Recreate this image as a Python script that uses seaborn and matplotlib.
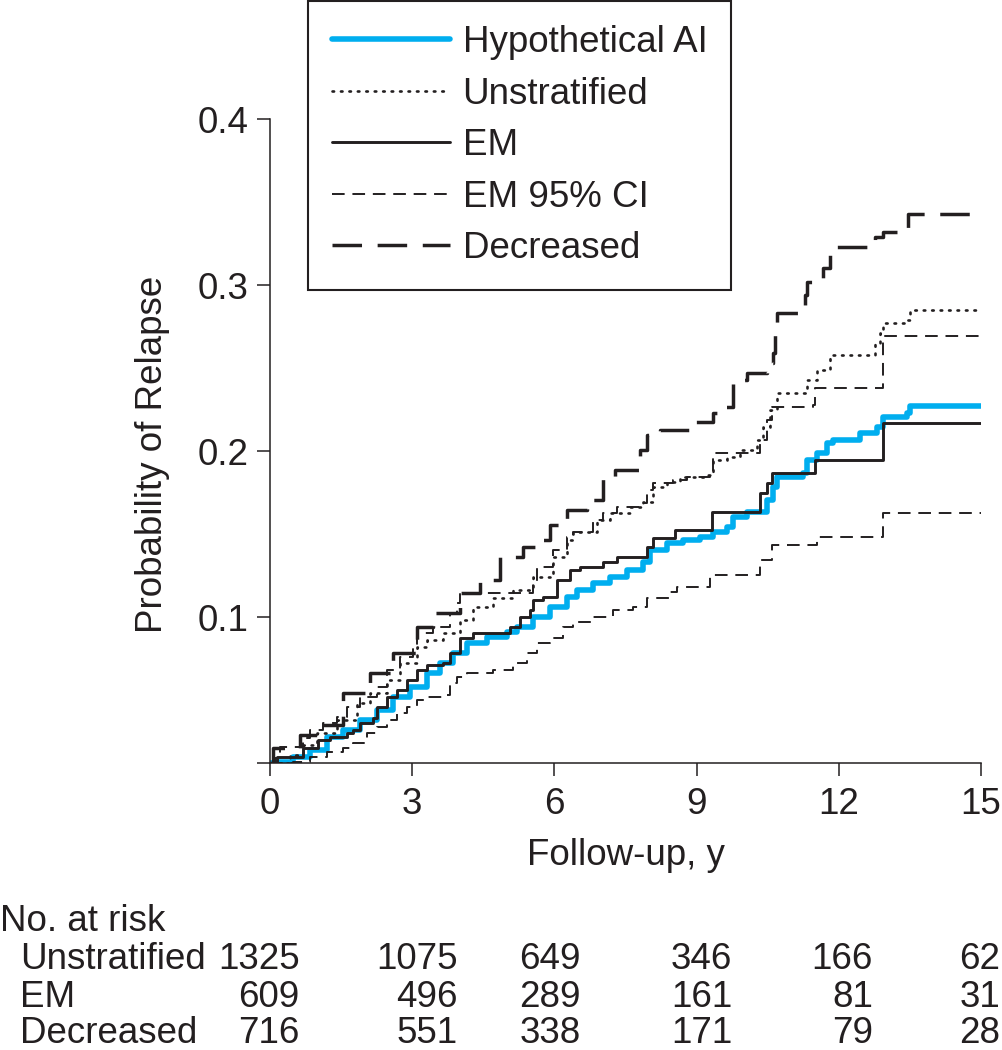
import numpy as np
import pandas as pd
import matplotlib
matplotlib.use("Agg")
import matplotlib.pyplot as plt
import matplotlib.transforms as mtransforms
import seaborn as sns

# ---- curve data (years, probability of relapse) ----
ai_t = [0.0, 0.11, 0.49, 0.84, 1.20, 1.54, 1.90, 2.26, 2.59, 2.95, 3.31, 3.59, 3.86, 4.16, 4.58,
        5.00, 5.21, 5.55, 5.91, 6.27, 6.48, 6.81, 7.17, 7.53, 7.87, 8.02, 8.38, 8.71, 9.07, 9.35,
        9.64, 9.77, 10.06, 10.49, 10.61, 10.70, 11.24, 11.33, 11.54, 11.75, 11.88, 12.45, 12.81,
        12.93, 13.44, 13.50, 15.0]
ai_p = [0.0123, 0.0129, 0.0159, 0.0202, 0.0280, 0.0322, 0.0382, 0.0443, 0.0521, 0.0581, 0.0666,
        0.0726, 0.0786, 0.0846, 0.0883, 0.0913, 0.0943, 0.1003, 0.1063, 0.1124, 0.1166, 0.1208,
        0.1244, 0.1286, 0.1334, 0.1407, 0.1449, 0.1467, 0.1485, 0.1515, 0.1545, 0.1606, 0.1636,
        0.1708, 0.1786, 0.1846, 0.1871, 0.1949, 0.1991, 0.2051, 0.2069, 0.2111, 0.2148, 0.2208,
        0.2232, 0.2274, 0.2274]

unstrat_t = [0.0, 0.42, 0.70, 0.99, 1.41, 1.84, 2.11, 2.47, 2.74, 3.10, 3.31, 3.65, 4.01, 4.28,
             4.70, 5.13, 5.55, 5.97, 6.27, 6.39, 6.90, 7.17, 7.59, 7.87, 8.08, 8.38, 8.65, 9.22,
             9.35, 9.64, 9.92, 10.27, 10.40, 10.55, 10.70, 11.33, 11.54, 11.81, 12.76, 12.87,
             12.93, 13.44, 13.50, 15.0]
unstrat_p = [0.0123, 0.0171, 0.0232, 0.0304, 0.0382, 0.0485, 0.0545, 0.0623, 0.0726, 0.0822,
             0.0864, 0.0907, 0.0985, 0.1063, 0.1118, 0.1166, 0.1244, 0.1364, 0.1467, 0.1515,
             0.1587, 0.1630, 0.1666, 0.1696, 0.1786, 0.1816, 0.1846, 0.1858, 0.1949, 0.1967,
             0.2009, 0.2069, 0.2148, 0.2250, 0.2352, 0.2431, 0.2491, 0.2581, 0.2654, 0.2714,
             0.2774, 0.2792, 0.2852, 0.2852]

em_t = [0.0, 0.15, 0.70, 1.01, 1.27, 1.62, 1.75, 1.90, 2.17, 2.26, 2.47, 2.68, 2.89, 3.10, 3.31,
        3.65, 3.80, 4.01, 4.28, 5.06, 5.27, 5.49, 5.55, 5.76, 6.05, 6.33, 6.54, 7.03, 7.32, 7.95,
        8.08, 8.54, 9.32, 10.34, 10.49, 10.59, 11.50, 12.93, 15.0]
em_p = [0.0123, 0.0159, 0.0214, 0.0262, 0.0280, 0.0304, 0.0322, 0.0364, 0.0394, 0.0461, 0.0521,
        0.0563, 0.0623, 0.0684, 0.0714, 0.0726, 0.0786, 0.0877, 0.0907, 0.0943, 0.1003, 0.1045,
        0.1106, 0.1124, 0.1226, 0.1287, 0.1305, 0.1334, 0.1364, 0.1425, 0.1479, 0.1527, 0.1636,
        0.1750, 0.1810, 0.1871, 0.1949, 0.2172, 0.2172]

ci_hi_t = [0.0, 0.11, 0.21, 0.70, 0.84, 1.12, 1.41, 1.62, 1.90, 2.26, 2.47, 2.74, 3.02, 3.10,
           3.44, 3.80, 3.95, 4.01, 5.55, 5.63, 5.97, 6.27, 6.39, 6.81, 7.03, 7.32, 7.81, 7.95,
           8.08, 8.50, 8.80, 9.28, 9.35, 10.34, 10.49, 10.59, 11.46, 11.50, 12.93, 15.0]
ci_hi_p = [0.0123, 0.0153, 0.0220, 0.0274, 0.0322, 0.0364, 0.0400, 0.0461, 0.0521, 0.0581, 0.0684,
           0.0762, 0.0822, 0.0907, 0.0943, 0.1028, 0.1087, 0.1148, 0.1208, 0.1304, 0.1407,
           0.1485, 0.1515, 0.1587, 0.1630, 0.1666, 0.1690, 0.1768, 0.1810, 0.1828, 0.1846,
           0.1858, 0.1991, 0.2069, 0.2190, 0.2268, 0.2280, 0.2383, 0.2696, 0.2696]

ci_lo_t = [0.0, 0.49, 0.84, 1.20, 1.54, 1.75, 2.05, 2.26, 2.47, 2.68, 2.89, 3.10, 3.31, 3.65, 3.80,
           3.95, 4.16, 4.70, 5.13, 5.42, 5.63, 5.91, 6.18, 6.39, 6.81, 7.24, 7.66, 7.95, 8.44,
           8.59, 9.28, 10.34, 10.59, 11.54, 12.93, 15.0]
ci_lo_p = [0.0123, 0.0129, 0.0159, 0.0190, 0.0214, 0.0244, 0.0304, 0.0340, 0.0382, 0.0425, 0.0461,
           0.0503, 0.0521, 0.0533, 0.0605, 0.0642, 0.0666, 0.0684, 0.0726, 0.0786, 0.0846,
           0.0877, 0.0943, 0.0973, 0.1003, 0.1045, 0.1063, 0.1118, 0.1154, 0.1184, 0.1256,
           0.1346, 0.1437, 0.1485, 0.1630, 0.1630]

decr_t = [0.0, 0.06, 0.63, 1.05, 1.54, 2.11, 2.59, 3.10, 3.44, 4.01, 4.43, 4.85, 5.34, 5.76, 5.91,
          6.27, 6.69, 7.03, 7.28, 7.81, 7.95, 8.23, 8.86, 9.35, 9.49, 9.77, 10.06, 10.49, 10.61,
          10.65, 10.70, 11.29, 11.33, 11.67, 11.81, 12.76, 12.93, 13.46, 15.0]
decr_p = [0.0123, 0.0214, 0.0292, 0.0352, 0.0545, 0.0666, 0.0786, 0.0943, 0.1028, 0.1148, 0.1226,
          0.1364, 0.1425, 0.1467, 0.1557, 0.1648, 0.1708, 0.1846, 0.1886, 0.2009, 0.2099,
          0.2129, 0.2178, 0.2232, 0.2268, 0.2431, 0.2473, 0.2533, 0.2593, 0.2702, 0.2834,
          0.2943, 0.3021, 0.3105, 0.3232, 0.3292, 0.3322, 0.3431, 0.3431]

# ---- number at risk table ----
risk_times = [0, 3, 6, 9, 12, 15]
risk_groups = ["Unstratified", "EM", "Decreased"]
risk_unstrat = [1325, 1075, 649, 346, 166, 62]
risk_em = [609, 496, 289, 161, 81, 31]
risk_decr = [716, 551, 338, 171, 79, 28]

x_ticks = [0, 3, 6, 9, 12, 15]
y_ticks = [0.1, 0.2, 0.3, 0.4]

TXT = "#231f20"
BLUE = "#00aeef"
FS = 26.5

sns.set_style("ticks")
plt.rcParams["font.family"] = ["Liberation Sans", "DejaVu Sans"]
plt.rcParams["text.color"] = TXT
plt.rcParams["axes.labelcolor"] = TXT
plt.rcParams["xtick.color"] = TXT
plt.rcParams["ytick.color"] = TXT

fig = plt.figure(figsize=(10.02, 10.5), dpi=100)
ax = fig.add_axes([0.2695, 0.2733, 0.7096, 0.6129])

def km(t, p, **kw):
    sns.lineplot(x=t, y=p, ax=ax, drawstyle="steps-post", estimator=None, **kw)

km(ai_t, ai_p, color=BLUE, linewidth=4.0, label="Hypothetical AI", zorder=2)
km(unstrat_t, unstrat_p, color=TXT, linewidth=1.9, linestyle=(0, (0.6, 2.6)),
   dash_capstyle="round", label="Unstratified", zorder=3)
km(em_t, em_p, color=TXT, linewidth=2.1, label="EM", zorder=3)
km(ci_hi_t, ci_hi_p, color=TXT, linewidth=1.4, linestyle=(0, (6.5, 4)), label="EM 95% CI", zorder=3)
km(ci_lo_t, ci_lo_p, color=TXT, linewidth=1.4, linestyle=(0, (6.5, 4)), zorder=3)
km(decr_t, decr_p, color=TXT, linewidth=2.5, linestyle=(0, (8.5, 4.5)), label="Decreased", zorder=3)

ybot = 0.0123
ax.set_xlim(0, 15)
ax.set_ylim(ybot, 0.4)
ax.set_xticks(x_ticks)
ax.set_xticklabels([str(v) for v in x_ticks])
ax.set_yticks([ybot] + y_ticks)
ax.set_yticklabels([""] + ["%.1f" % v for v in y_ticks])
ax.tick_params(axis="both", direction="out", length=9.5, width=1.1, labelsize=FS)
ax.tick_params(axis="x", pad=8)
ax.tick_params(axis="y", pad=6)
for s in ["top", "right"]:
    ax.spines[s].set_visible(False)
for s in ["left", "bottom"]:
    ax.spines[s].set_linewidth(1.1)
    ax.spines[s].set_color(TXT)

ax.set_xlabel("Follow-up, y", fontsize=FS)
ax.set_ylabel("Probability of Relapse", fontsize=FS)
ax.xaxis.set_label_coords(0.5, -0.117)
ax.yaxis.set_label_coords(-0.14, 0.48)

leg = ax.legend(loc="upper left", bbox_to_anchor=(308 / 1002, 0.999),
                bbox_transform=fig.transFigure, fontsize=FS, frameon=True,
                fancybox=False, edgecolor=TXT, framealpha=1, handlelength=3.2,
                handletextpad=0.35, labelspacing=0.45, borderpad=0.65, borderaxespad=0)
leg.get_frame().set_linewidth(1.5)

# number at risk under the plot
tr = mtransforms.blended_transform_factory(ax.transData, fig.transFigure)
col_right = [0.62, 3.95, 6.56, 9.75, 12.72, 15.4]
row_base = [0.0771, 0.0410, 0.0067]
fig.text(0.0, 0.1133, "No. at risk", fontsize=FS, ha="left", va="baseline")
for name, counts, yb in zip(risk_groups, [risk_unstrat, risk_em, risk_decr], row_base):
    fig.text(20 / 1002, yb, name, fontsize=FS, ha="left", va="baseline")
    for xr, n in zip(col_right, counts):
        ax.text(xr, yb, str(n), transform=tr, fontsize=FS, ha="right", va="baseline",
                clip_on=False)

fig.savefig("out.png", dpi=100, facecolor="white")
